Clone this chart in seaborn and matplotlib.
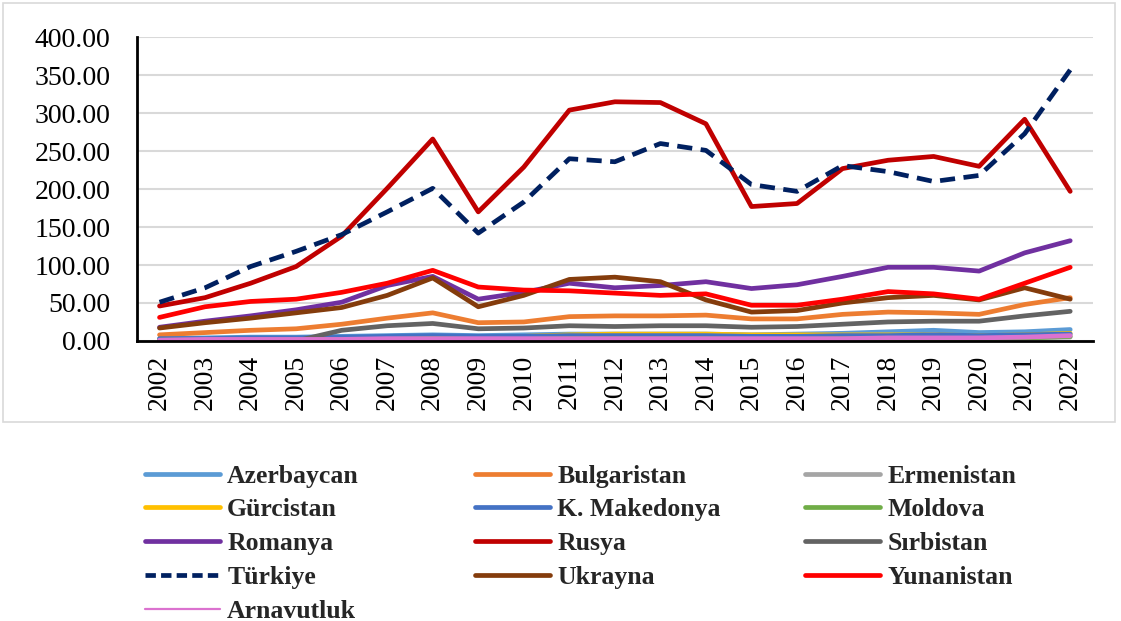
import numpy as np
import pandas as pd
import matplotlib
matplotlib.use("Agg")
import matplotlib.pyplot as plt
from matplotlib.lines import Line2D
from matplotlib.patches import Rectangle
import seaborn as sns

years = list(range(2002, 2023))

azerbaycan = [3, 4, 5, 5, 6, 7, 8, 7, 8, 9, 9, 9, 9, 8, 9, 10, 12, 14, 11, 12, 15]
bulgaristan = [8, 11, 14, 16, 22, 30, 37, 24, 25, 32, 33, 33, 34, 29, 29, 35, 38, 37, 35, 48, 57]
ermenistan = [1, 1, 1, 2, 2, 2, 3, 2, 2, 3, 3, 3, 3, 3, 3, 3, 4, 4, 4, 4, 5]
gurcistan = [1, 2, 2, 3, 4, 5, 6, 5, 6, 8, 9, 9, 9, 8, 8, 8, 8, 8, 7, 8, 10]
makedonya = [3, 3, 4, 4, 5, 6, 7, 6, 6, 7, 7, 7, 7, 6, 6, 7, 7, 8, 7, 8, 9]
moldova = [1, 1, 1, 2, 2, 2, 3, 2, 2, 3, 3, 3, 3, 2, 2, 3, 3, 3, 3, 4, 6]
romanya = [18, 26, 33, 41, 51, 73, 85, 55, 64, 76, 70, 73, 78, 69, 74, 85, 97, 97, 92, 116, 132]
rusya = [46, 57, 76, 98, 138, 201, 266, 170, 229, 304, 315, 314, 286, 177, 181, 227, 238, 243, 230, 292, 197]
sirbistan = [0, 0, 0, 0, 14, 20, 23, 16, 17, 20, 19, 20, 20, 18, 19, 22, 25, 26, 26, 33, 39]
turkiye = [51, 70, 98, 118, 140, 170, 201, 142, 183, 240, 236, 260, 251, 206, 197, 231, 223, 210, 218, 273, 357]
ukrayna = [17, 24, 30, 37, 44, 60, 83, 45, 60, 81, 84, 78, 54, 38, 40, 50, 57, 60, 54, 70, 55]
yunanistan = [31, 45, 52, 55, 64, 76, 93, 71, 67, 66, 63, 60, 62, 47, 47, 55, 65, 62, 55, 76, 97]
arnavutluk = [1, 2, 2, 2, 2, 3, 3, 3, 3, 3, 3, 3, 3, 3, 3, 3, 4, 4, 4, 5, 7]

countries = ["Azerbaycan", "Bulgaristan", "Ermenistan", "Gürcistan", "K. Makedonya",
             "Moldova", "Romanya", "Rusya", "Sırbistan", "Türkiye", "Ukrayna",
             "Yunanistan", "Arnavutluk"]
series = [azerbaycan, bulgaristan, ermenistan, gurcistan, makedonya, moldova,
          romanya, rusya, sirbistan, turkiye, ukrayna, yunanistan, arnavutluk]
colors = ["#5B9BD5", "#ED7D31", "#A5A5A5", "#FFC000", "#4472C4", "#70AD47",
          "#7030A0", "#C00000", "#636363", "#002060", "#843C0C", "#FF0000", "#DB72CF"]

rows = []
for name, vals in zip(countries, series):
    for y, v in zip(years, vals):
        rows.append({"Yıl": y, "Değer": v, "Ülke": name})
df = pd.DataFrame(rows)

palette = dict(zip(countries, colors))
dashes = {c: "" for c in countries}
dashes["Türkiye"] = (3.2, 1.8)

sns.set_theme(style="white")
plt.rcParams["font.family"] = ["Liberation Serif", "DejaVu Serif"]

fig = plt.figure(figsize=(11.21, 6.21), dpi=100)
ax = fig.add_axes([0.122, 0.451, 0.853, 0.489])

sns.lineplot(data=df, x="Yıl", y="Değer", hue="Ülke", style="Ülke",
             hue_order=countries, style_order=countries, palette=palette,
             dashes=dashes, linewidth=3.4, legend=False, ax=ax, sort=False)

ax.set_xlim(2001.5, 2022.5)
ax.set_ylim(0, 400)
ax.set_yticks(np.arange(0, 401, 50))
ax.set_yticklabels([f"{v:.2f}" for v in np.arange(0, 401, 50)], fontsize=20)
ax.set_xticks(years)
ax.set_xticklabels([str(y) for y in years], rotation=90, fontsize=20)
ax.tick_params(axis="y", length=0, pad=19, colors="black")
ax.tick_params(axis="x", length=0, pad=10, colors="black")
ax.set_xlabel("")
ax.set_ylabel("")
ax.grid(axis="y", color="#D9D9D9", linewidth=1.5)
ax.set_axisbelow(True)
for s in ["top", "right"]:
    ax.spines[s].set_visible(False)
for s in ["left", "bottom"]:
    ax.spines[s].set_color("black")
    ax.spines[s].set_linewidth(2)

# outer chart frame
fig.patches.append(Rectangle((3 / 1121, 1 - 422 / 621), 1112 / 1121, 419 / 621,
                             transform=fig.transFigure, fill=False,
                             edgecolor="#D9D9D9", linewidth=1.2))

handles = {}
for c in countries:
    lw = 1.6 if c == "Arnavutluk" else 3.4
    ls = (0, (2.2, 1.1)) if c == "Türkiye" else "-"
    handles[c] = Line2D([0], [0], color=palette[c], lw=lw, linestyle=ls)

# legend laid out row-wise in 3 columns, one legend per column
col_x = [145 / 1121, 475 / 1121, 805 / 1121]
for k in range(3):
    names = countries[k::3]
    leg = fig.legend([handles[n] for n in names], names,
                     loc="upper left", bbox_to_anchor=(col_x[k], 0.252),
                     frameon=False, prop={"size": 18.5, "weight": "bold"},
                     handlelength=2.9, handletextpad=0.3,
                     labelspacing=0.42, borderpad=0, borderaxespad=0)

fig.savefig("out.png", dpi=100)
